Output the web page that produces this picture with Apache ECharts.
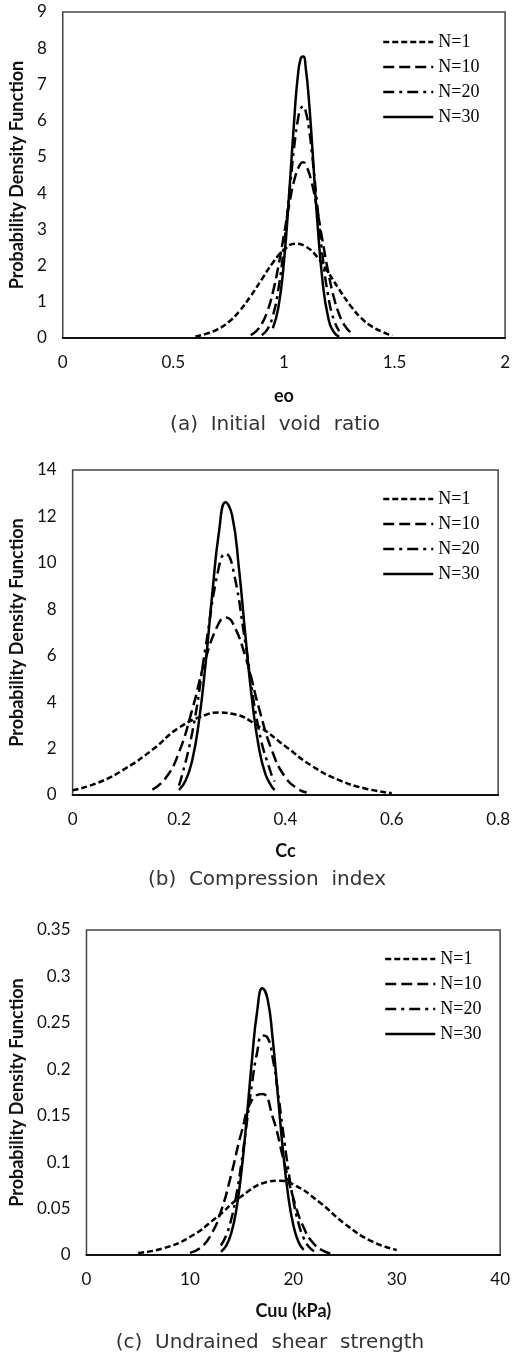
<!DOCTYPE html>
<html>
<head>
<meta charset="utf-8">
<script src="https://cdn.jsdelivr.net/npm/echarts@6/dist/echarts.min.js"></script>
<style>
html,body{margin:0;padding:0;background:#fff;}
#c{width:513px;height:1355px;}
</style>
</head>
<body>
<div id="c"></div>
<script>
// ---------- DATA ----------
const seriesNames = ['N=1', 'N=10', 'N=20', 'N=30'];

// (a) Initial void ratio, eo
const eoTicks = [0, 0.5, 1, 1.5, 2];
const eoYTicks = [0, 1, 2, 3, 4, 5, 6, 7, 8, 9];
const eoN1X = [0.6, 0.65, 0.7, 0.75, 0.8, 0.85, 0.9, 0.95, 1.0, 1.05, 1.1, 1.15, 1.2, 1.25, 1.3, 1.35, 1.4, 1.45, 1.49];
const eoN1Y = [0.04, 0.12, 0.24, 0.44, 0.75, 1.16, 1.62, 2.08, 2.43, 2.6, 2.52, 2.24, 1.81, 1.34, 0.9, 0.55, 0.31, 0.16, 0.06];
const eoN10X = [0.85, 0.875, 0.9, 0.925, 0.95, 0.975, 1.0, 1.025, 1.05, 1.075, 1.0875, 1.1, 1.125, 1.15, 1.175, 1.2, 1.225, 1.25, 1.275, 1.3];
const eoN10Y = [0.08, 0.19, 0.39, 0.73, 1.26, 1.98, 2.84, 3.72, 4.43, 4.81, 4.85, 4.77, 4.31, 3.55, 2.67, 1.83, 1.14, 0.65, 0.34, 0.16];
const eoN20X = [0.9, 0.925, 0.95, 0.975, 1.0, 1.025, 1.05, 1.0625, 1.075, 1.0875, 1.1, 1.1125, 1.125, 1.15, 1.175, 1.2, 1.225, 1.25];
const eoN20Y = [0.08, 0.24, 0.61, 1.35, 2.52, 4.03, 5.47, 6.0, 6.32, 6.4, 6.22, 5.81, 5.21, 3.71, 2.26, 1.17, 0.51, 0.19];
const eoN30X = [0.95, 0.975, 1.0, 1.025, 1.05, 1.0625, 1.075, 1.0875, 1.1, 1.1125, 1.125, 1.15, 1.175, 1.2, 1.225, 1.25];
const eoN30Y = [0.27, 0.84, 2.09, 4.10, 6.33, 7.2, 7.70, 7.77, 7.38, 6.61, 5.57, 3.31, 1.55, 0.57, 0.17, 0.04];

// (b) Compression index, Cc
const ccTicks = [0, 0.2, 0.4, 0.6, 0.8];
const ccYTicks = [0, 2, 4, 6, 8, 10, 12, 14];
const ccN1X = [0, 0.05, 0.1, 0.15, 0.2, 0.25, 0.275, 0.3, 0.35, 0.4, 0.45, 0.5, 0.55, 0.6];
const ccN1Y = [0.2, 0.55, 1.15, 1.95, 2.9, 3.45, 3.55, 3.5, 2.95, 2.1, 1.25, 0.65, 0.28, 0.08];
const ccN10X = [0.15, 0.175, 0.2, 0.225, 0.25, 0.275, 0.2875, 0.3, 0.325, 0.35, 0.375, 0.4, 0.425, 0.44];
const ccN10Y = [0.23, 0.73, 1.84, 3.69, 5.87, 7.41, 7.65, 7.45, 5.95, 3.77, 1.90, 0.76, 0.24, 0.11];
const ccN20X = [0.2, 0.225, 0.25, 0.275, 0.2875, 0.3, 0.325, 0.35, 0.375, 0.38];
const ccN20Y = [0.4, 2.70, 6.37, 9.82, 10.4, 9.90, 6.53, 2.82, 0.79, 0.59];
const ccN30X = [0.2, 0.2125, 0.225, 0.2375, 0.25, 0.2625, 0.275, 0.2875, 0.3, 0.3125, 0.325, 0.3375, 0.35, 0.3625, 0.375, 0.38];
const ccN30Y = [0.22, 0.62, 1.51, 3.17, 5.66, 8.65, 11.30, 12.61, 12.03, 9.81, 6.83, 4.07, 2.07, 0.90, 0.34, 0.22];

// (c) Undrained shear strength, Cuu (kPa)
const cuTicks = [0, 10, 20, 30, 40];
const cuYTicks = [0, 0.05, 0.1, 0.15, 0.2, 0.25, 0.3, 0.35];
const cuN1X = [5, 7.5, 10, 12.5, 15, 17.5, 18.5, 20, 22.5, 25, 27.5, 30];
const cuN1Y = [0.0022, 0.0074, 0.0194, 0.0398, 0.0634, 0.0787, 0.080, 0.0760, 0.0571, 0.0334, 0.0152, 0.0054];
const cuN10X = [10, 11, 12, 13, 14, 15, 16, 17, 18, 19, 20, 21, 22, 23, 24];
const cuN10Y = [0.0023, 0.0077, 0.0209, 0.0469, 0.0868, 0.1325, 0.167, 0.1735, 0.1487, 0.1052, 0.0614, 0.0296, 0.0118, 0.0039, 0.0010];
const cuN20X = [13, 13.5, 14, 14.5, 15, 15.5, 16, 16.5, 17, 17.5, 18, 18.5, 19, 19.5, 20, 20.5, 21, 21.5, 22];
const cuN20Y = [0.0103, 0.0208, 0.0385, 0.0651, 0.1006, 0.1424, 0.1842, 0.2181, 0.2363, 0.2342, 0.2124, 0.1762, 0.1337, 0.0929, 0.059, 0.0343, 0.0182, 0.0089, 0.0040];
const cuN30X = [13, 13.5, 14, 14.5, 15, 15.5, 16, 16.5, 17, 17.5, 18, 18.5, 19, 19.5, 20, 20.5, 21];
const cuN30Y = [0.0036, 0.0098, 0.0235, 0.0494, 0.0913, 0.1478, 0.2102, 0.2622, 0.2872, 0.2762, 0.2332, 0.1728, 0.1124, 0.0642, 0.0322, 0.0141, 0.0055];

// ---------- BUILD ----------
const zip = (xs, ys) => xs.map((x, i) => [x, ys[i]]);
const dashes = [[6, 3], [11, 5], [11, 5, 3, 5], 'solid'];

const panels = [
  { xs: [eoN1X, eoN10X, eoN20X, eoN30X], ys: [eoN1Y, eoN10Y, eoN20Y, eoN30Y], xt: eoTicks, yt: eoYTicks,
    xname: 'eo', nameGap: 49, grid: { left: 59, top: 12, width: 449, height: 326 }, yGap: 33, legend: { left: 382, top: 33 },
    caption: '(a)  Initial  void  ratio', cap: [275, 425] },
  { xs: [ccN1X, ccN10X, ccN20X, ccN30X], ys: [ccN1Y, ccN10Y, ccN20Y, ccN30Y], xt: ccTicks, yt: ccYTicks,
    xname: 'Cc', nameGap: 47, grid: { left: 69, top: 470, width: 433, height: 325 }, yGap: 43, legend: { left: 382, top: 490 },
    caption: '(b)  Compression  index', cap: [267, 880] },
  { xs: [cuN1X, cuN10X, cuN20X, cuN30X], ys: [cuN1Y, cuN10Y, cuN20Y, cuN30Y], xt: cuTicks, yt: cuYTicks,
    xname: 'Cuu (kPa)', nameGap: 47, grid: { left: 84, top: 930, width: 422, height: 325 }, yGap: 58, legend: { left: 384, top: 950 },
    caption: '(c)  Undrained  shear  strength', cap: [270, 1343] }
];

const labelFont = { fontFamily: 'Lato', fontSize: 17, color: '#111' };
const nameFont = { fontFamily: 'Lato', fontSize: 18, fontWeight: 'bold', color: '#111' };

const option = {
  animation: false,
  backgroundColor: '#fff',
  grid: [], xAxis: [], yAxis: [], series: [], legend: [], graphic: []
};

panels.forEach((p, gi) => {
  option.grid.push(Object.assign({ show: true, borderColor: '#444', borderWidth: 1.5, backgroundColor: 'transparent' }, p.grid));
  const xt = p.xt, yt = p.yt;
  option.xAxis.push({
    type: 'value', gridIndex: gi, min: xt[0], max: xt[xt.length - 1], interval: xt[1] - xt[0],
    axisLine: { show: true, onZero: false, lineStyle: { color: '#111', width: 2 } },
    axisTick: { show: false }, splitLine: { show: false },
    axisLabel: Object.assign({ margin: 16 }, labelFont),
    name: p.xname, nameLocation: 'middle', nameGap: p.nameGap, nameTextStyle: nameFont
  });
  option.yAxis.push({
    type: 'value', gridIndex: gi, min: yt[0], max: yt[yt.length - 1], interval: yt[1] - yt[0],
    axisLine: { show: false }, axisTick: { show: false }, splitLine: { show: false },
    axisLabel: Object.assign({ margin: 16 }, labelFont),
    name: 'Probability Density Function', nameLocation: 'middle', nameGap: p.yGap, nameTextStyle: nameFont
  });
  seriesNames.forEach((nm, si) => {
    option.series.push({
      type: 'line', name: nm, xAxisIndex: gi, yAxisIndex: gi,
      data: zip(p.xs[si], p.ys[si]),
      smooth: true, symbol: 'none', showSymbol: false,
      lineStyle: { color: '#000', width: 2.5, type: dashes[si] },
      itemStyle: { color: '#000' }
    });
  });
  option.legend.push({
    data: seriesNames, orient: 'vertical', left: p.legend.left, top: p.legend.top,
    itemWidth: 50, itemHeight: 14, itemGap: 7, padding: 0,
    itemStyle: { opacity: 0, borderWidth: 0 },
    lineStyle: { color: '#000', width: 2.5, opacity: 1 },
    textStyle: { fontFamily: 'Liberation Serif', fontSize: 18, color: '#000' },
    selectedMode: false
  });
  option.graphic.push({
    type: 'text', x: p.cap[0], y: p.cap[1],
    style: { text: p.caption, font: '20px "DejaVu Sans"', fill: '#333', align: 'center', verticalAlign: 'middle', textAlign: 'center', textVerticalAlign: 'middle' }
  });
});

const chart = echarts.init(document.getElementById('c'), null, { renderer: 'canvas' });
chart.setOption(option);
</script>
</body>
</html>
